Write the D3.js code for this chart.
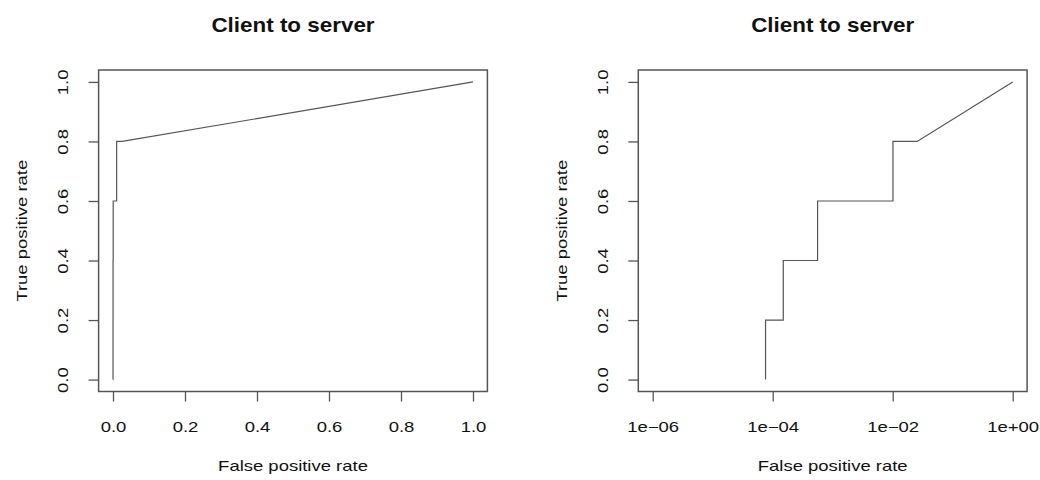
<!DOCTYPE html>
<html>
<head>
<meta charset="utf-8">
<script src="https://cdn.jsdelivr.net/npm/d3@7"></script>
<style>
  body { margin: 0; background: #fff; }
  svg { display: block; }
  text { font-family: 'Liberation Sans', Arial, sans-serif; fill: #111; }
</style>
</head>
<body>
<div id="chart"></div>
<script>
const titles = ['Client to server', 'Client to server']
const xLabel = 'False positive rate'
const yLabel = 'True positive rate'
const fpr = [0, 7.6e-5, 7.6e-5, 1.5e-4, 1.5e-4, 5.6e-4, 5.6e-4, 0.0101, 0.0101, 0.0256, 1]
const tpr = [0, 0, 0.2, 0.2, 0.4, 0.4, 0.6, 0.6, 0.8, 0.8, 1]
const linTicks = [0, 0.2, 0.4, 0.6, 0.8, 1]
const logTicks = [1e-6, 1e-4, 1e-2, 1]
const logTickLabels = ['1e\u221206', '1e\u221204', '1e\u221202', '1e+00']
const yTicks = [0, 0.2, 0.4, 0.6, 0.8, 1]

const w = 1040
const h = 480
const box = { left: 98.6, right: 487.4, top: 70, bottom: 391.5 }
const stretch = 1.32
const titleStretch = 1.15
const boxColor = '#555'

const points = fpr.map((f, i) => ({ fpr: f, tpr: tpr[i] }))

const svg = d3.select('#chart').append('svg')
  .attr('width', w)
  .attr('height', h)

const y = d3.scaleLinear().domain([-0.04, 1.04]).range([box.bottom, box.top])

const drawPanel = (offset, x, ticks, labels, data, title) => {
  const g = svg.append('g').attr('transform', 'translate(' + offset + ',0)')

  g.append('text')
    .attr('transform', 'translate(' + (box.left + box.right) / 2 + ',31.7) scale(' + titleStretch + ',1)')
    .attr('text-anchor', 'middle')
    .style('font-size', '19.5px')
    .style('font-weight', 'bold')
    .text(title)

  const xAxis = g.append('g')
    .attr('transform', 'translate(0,' + box.bottom + ')')
    .call(d3.axisBottom(x).tickValues(ticks).tickFormat((d, i) => labels[i]).tickSize(10).tickSizeOuter(0))
  xAxis.select('.domain').remove()
  xAxis.selectAll('line').attr('stroke', boxColor).attr('stroke-width', 1.3)
  xAxis.selectAll('text')
    .attr('y', 0).attr('dy', 0)
    .attr('transform', 'translate(0,40.8) scale(' + stretch + ',1)')
    .style('font-size', '14px')
    .attr('fill', '#111')

  const yAxis = g.append('g')
    .attr('transform', 'translate(' + box.left + ',0)')
    .call(d3.axisLeft(y).tickValues(yTicks).tickFormat(d3.format('.1f')).tickSize(10).tickSizeOuter(0))
  yAxis.select('.domain').remove()
  yAxis.selectAll('line').attr('stroke', boxColor).attr('stroke-width', 1.3)
  yAxis.selectAll('text')
    .attr('x', 0).attr('y', 0).attr('dy', 0)
    .attr('text-anchor', 'middle')
    .attr('transform', 'translate(-30.3,0) rotate(-90) scale(' + stretch + ',1)')
    .style('font-size', '14px')
    .attr('fill', '#111')

  g.append('rect')
    .attr('x', box.left)
    .attr('y', box.top)
    .attr('width', box.right - box.left)
    .attr('height', box.bottom - box.top)
    .attr('fill', 'none')
    .attr('stroke', boxColor)
    .attr('stroke-width', 1.5)

  const line = d3.line()
    .x(d => x(d.fpr))
    .y(d => y(d.tpr))

  g.append('path')
    .datum(data)
    .attr('d', line)
    .attr('fill', 'none')
    .attr('stroke', '#555')
    .attr('stroke-width', 1.2)

  g.append('text')
    .attr('transform', 'translate(' + (box.left + box.right) / 2 + ',471) scale(' + stretch + ',1)')
    .attr('text-anchor', 'middle')
    .style('font-size', '14px')
    .text(xLabel)

  g.append('text')
    .attr('transform', 'translate(' + (box.left - 71.6) + ',' + (box.top + box.bottom) / 2 + ') rotate(-90) scale(' + stretch + ',1)')
    .attr('text-anchor', 'middle')
    .style('font-size', '14px')
    .text(yLabel)
}

const xLin = d3.scaleLinear().domain([-0.04, 1.04]).range([box.left, box.right])
const xLog = d3.scaleLog().domain([Math.pow(10, -6.24), Math.pow(10, 0.24)]).range([box.left, box.right])

drawPanel(0, xLin, linTicks, linTicks.map(d3.format('.1f')), points, titles[0])
drawPanel(539.7, xLog, logTicks, logTickLabels, points.filter(d => d.fpr > 0), titles[1])
</script>
</body>
</html>
